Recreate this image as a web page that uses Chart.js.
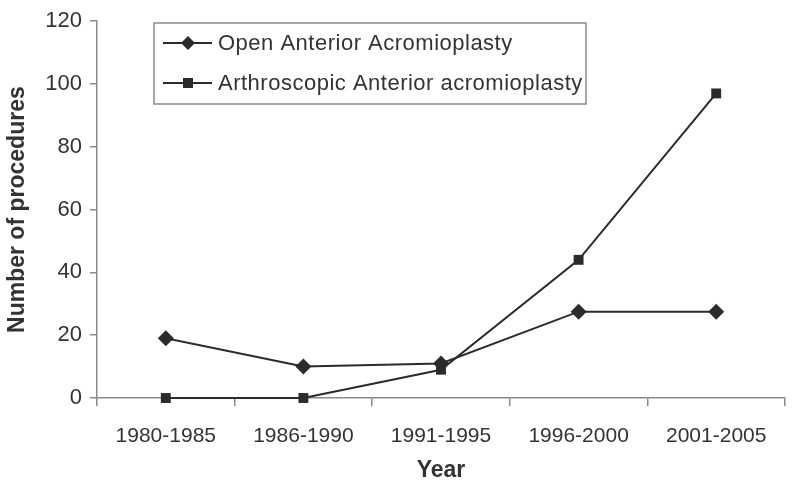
<!DOCTYPE html>
<html>
<head>
<meta charset="utf-8">
<script src="https://cdn.jsdelivr.net/npm/chart.js@4"></script>
<style>
  body { margin: 0; background: #fff; }
  #wrap { width: 800px; height: 488px; }
</style>
</head>
<body>
<div id="wrap"><canvas id="chart" width="800" height="488"></canvas></div>
<script>
// Data
const years = ['1980-1985', '1986-1990', '1991-1995', '1996-2000', '2001-2005'];
const openValues = [19, 10, 11, 27.5, 27.5];
const arthroValues = [0, 0, 9, 44, 97];
const yTicks = [0, 20, 40, 60, 80, 100, 120];

const ink = '#2b2b2b';
const axisGray = '#8a8a8a';
const font = 'Liberation Sans, Arial, Helvetica, sans-serif';

// Legend drawn inside the plot, top-left, with a box
const boxLegend = {
    id: 'boxLegend',
    afterDraw(chart) {
        const ctx = chart.ctx;
        const x0 = 154, y0 = 23, w = 432, h = 81;
        ctx.save();
        ctx.strokeStyle = axisGray;
        ctx.lineWidth = 1.5;
        ctx.strokeRect(x0, y0, w, h);
        chart.data.datasets.forEach((ds, i) => {
            const cy = 43 + i * 40;
            ctx.strokeStyle = ink;
            ctx.lineWidth = 2;
            ctx.beginPath();
            ctx.moveTo(163, cy);
            ctx.lineTo(212, cy);
            ctx.stroke();
            ctx.fillStyle = ink;
            ctx.beginPath();
            if (ds.pointStyle === 'rectRot') {
                const r = 7;
                ctx.moveTo(188, cy - r);
                ctx.lineTo(188 + r, cy);
                ctx.lineTo(188, cy + r);
                ctx.lineTo(188 - r, cy);
                ctx.closePath();
            } else {
                ctx.rect(188 - 5, cy - 5, 10, 10);
            }
            ctx.fill();
            ctx.fillStyle = '#333';
            ctx.font = '22px ' + font;
            ctx.letterSpacing = '0.5px';
            ctx.textBaseline = 'middle';
            ctx.textAlign = 'left';
            ctx.fillText(ds.label, 218, cy + 1);
        });
        ctx.restore();
    }
};

new Chart(document.getElementById('chart'), {
    type: 'line',
    data: {
        labels: years,
        datasets: [
            {
                label: 'Open Anterior Acromioplasty',
                data: openValues,
                borderColor: ink,
                backgroundColor: ink,
                borderWidth: 2,
                pointStyle: 'rectRot',
                pointRadius: 8,
                pointBorderWidth: 0,
                clip: false,
                tension: 0
            },
            {
                label: 'Arthroscopic Anterior acromioplasty',
                data: arthroValues,
                borderColor: ink,
                backgroundColor: ink,
                borderWidth: 2,
                pointStyle: 'rect',
                pointRadius: 7,
                pointBorderWidth: 0,
                clip: false,
                tension: 0
            }
        ]
    },
    options: {
        responsive: false,
        animation: false,
        layout: { padding: { top: 15, right: 15, left: 0, bottom: 0 } },
        plugins: {
            legend: { display: false },
            tooltip: { enabled: false }
        },
        scales: {
            x: {
                offset: true,
                grid: {
                    offset: true,
                    drawOnChartArea: false,
                    drawTicks: true,
                    tickLength: 8,
                    color: axisGray,
                    lineWidth: 1.5
                },
                border: { color: axisGray, width: 1.5 },
                ticks: {
                    color: '#333',
                    font: { family: font, size: 21 },
                    padding: 18,
                    maxRotation: 0
                },
                title: {
                    display: true,
                    text: 'Year',
                    color: '#333',
                    font: { family: font, size: 23, weight: 'bold' },
                    padding: { top: 10 }
                },
                afterFit(scale) { scale.height = 90; }
            },
            y: {
                min: 0,
                max: 120,
                afterBuildTicks(scale) {
                    scale.ticks = yTicks.map(v => ({ value: v }));
                },
                grid: {
                    drawOnChartArea: false,
                    drawTicks: true,
                    tickLength: 7,
                    color: axisGray,
                    lineWidth: 1.5
                },
                border: { color: axisGray, width: 1.5 },
                ticks: {
                    color: '#333',
                    font: { family: font, size: 22 },
                    padding: 8
                },
                title: {
                    display: true,
                    text: 'Number of procedures',
                    color: '#333',
                    font: { family: font, size: 23, weight: 'bold' },
                    padding: { bottom: 4 }
                },
                afterFit(scale) { scale.width = 97; }
            }
        }
    },
    plugins: [boxLegend]
});
</script>
</body>
</html>
